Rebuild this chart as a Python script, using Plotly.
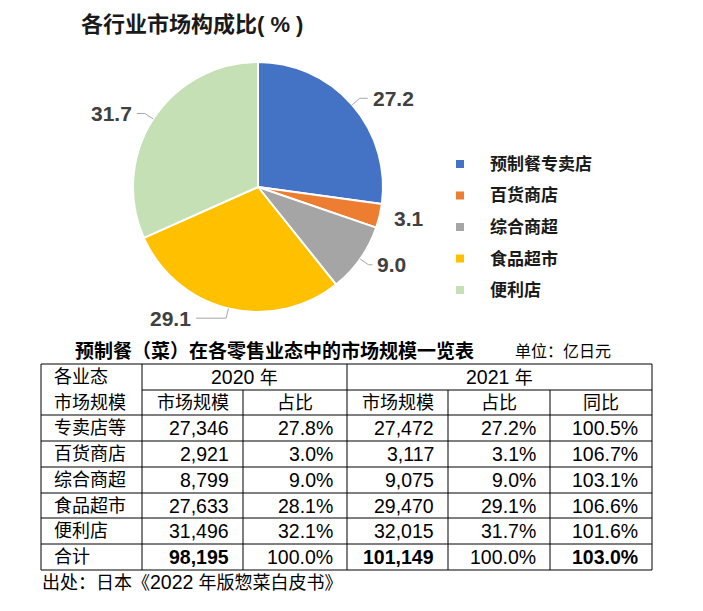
import math
import plotly.graph_objects as go

# ---------------- data ----------------
pie_names = ["预制餐专卖店", "百货商店", "综合商超", "食品超市", "便利店"]
pie_share = [27.2, 3.1, 9.0, 29.1, 31.7]
pie_colors = ["#4472C4", "#ED7D31", "#A5A5A5", "#FFC000", "#C5E0B4"]

row_names = ["专卖店等", "百货商店", "综合商超", "食品超市", "便利店"]
size_2020 = [27346, 2921, 8799, 27633, 31496]
share_2020 = [27.8, 3.0, 9.0, 28.1, 32.1]
size_2021 = [27472, 3117, 9075, 29470, 32015]
share_2021 = [27.2, 3.1, 9.0, 29.1, 31.7]
yoy_2021 = [100.5, 106.7, 103.1, 106.6, 101.6]
total_row = ["合计", 98195, 100.0, 101149, 100.0, 103.0]

year_headers = ["2020", "2021"]
sub_headers = ["市场规模", "占比", "市场规模", "占比", "同比"]
corner_header = ["各业态", "市场规模"]

pie_title = "各行业市场构成比( % )"
table_title = "预制餐（菜）在各零售业态中的市场规模一览表"
unit_text = "单位：亿日元"
source_pre, source_year, source_post = "出处：日本《", "2022", " 年版惣菜白皮书》"

# ---------------- layout helpers ----------------
W, H = 703, 611
def px(x):
    return x / W
def py(y):
    return 1 - y / H

CJK = "Liberation Sans, Arial, 'Noto Sans CJK SC', sans-serif"

fig = go.Figure()

# pie geometry (pixels)
cx, cy, R = 258, 187, 125
fig.add_trace(go.Pie(
    labels=pie_names, values=pie_share, sort=False, direction="clockwise",
    rotation=0, textinfo="none", hoverinfo="label+value",
    marker=dict(colors=pie_colors, line=dict(color="white", width=2)),
    domain=dict(x=[px(cx - R), px(cx + R)], y=[py(cy + R), py(cy - R)]),
    showlegend=False,
))

shapes = []
annotations = []

# pie labels with leader lines, computed from slice mid-angles
leader_len = [8, 0, 4, 30, 8]
total = sum(pie_share)
cum = 0.0
for i, v in enumerate(pie_share):
    mid = (cum + v / 2) / total * 2 * math.pi
    cum += v
    s, c = math.sin(mid), math.cos(mid)
    ex, ey = cx + R * s, cy - R * c
    bx, by = cx + R * 1.08 * s, cy - R * 1.08 * c
    side = 1 if s >= 0 else -1
    tx = bx + side * leader_len[i]
    if leader_len[i] > 0:
        shapes.append(dict(type="path", xref="paper", yref="paper",
                           path=f"M {px(ex)} {py(ey)} L {px(bx)} {py(by)} L {px(tx)} {py(by)}",
                           line=dict(color="#A6A6A6", width=1)))
    annotations.append(dict(x=px(tx + side * 3), y=py(by), xref="paper", yref="paper",
                            text=f"<b>{v:.1f}</b>", showarrow=False,
                            xanchor="left" if side > 0 else "right", yanchor="middle",
                            font=dict(family=CJK, size=21, color="#404040")))

# custom legend
for i, (name, col) in enumerate(zip(pie_names, pie_colors)):
    ly = 164 + i * 31.5
    shapes.append(dict(type="rect", xref="paper", yref="paper",
                       x0=px(456), x1=px(464), y0=py(ly - 4), y1=py(ly + 4),
                       fillcolor=col, line=dict(width=0)))
    annotations.append(dict(x=px(488), y=py(ly), xref="paper", yref="paper",
                            text=f"<b>{name}</b>", showarrow=False,
                            xanchor="left", yanchor="middle",
                            font=dict(family=CJK, size=17, color="#1A1A1A")))

# pie title
annotations.append(dict(x=px(79), y=py(25), xref="paper", yref="paper",
                        text=f"<b>{pie_title}</b>", showarrow=False,
                        xanchor="left", yanchor="middle",
                        font=dict(family=CJK, size=22, color="#1A1A1A")))

# table title and unit
annotations.append(dict(x=px(73), y=py(351), xref="paper", yref="paper",
                        text=f"<b>{table_title}</b>", showarrow=False,
                        xanchor="left", yanchor="middle",
                        font=dict(family=CJK, size=19, color="#000000")))
annotations.append(dict(x=px(513), y=py(351), xref="paper", yref="paper",
                        text=unit_text, showarrow=False,
                        xanchor="left", yanchor="middle",
                        font=dict(family=CJK, size=16, color="#000000")))

# table grid
col_x = [41, 142, 243, 347, 448, 550, 652]
row_y = [364, 390, 415, 441, 467, 493, 518, 544, 570]
line_style = dict(color="black", width=1)
def hline(x0, x1, y):
    shapes.append(dict(type="line", xref="paper", yref="paper",
                       x0=px(x0), x1=px(x1), y0=py(y), y1=py(y), line=line_style))
def vline(x, y0, y1):
    shapes.append(dict(type="line", xref="paper", yref="paper",
                       x0=px(x), x1=px(x), y0=py(y0), y1=py(y1), line=line_style))

for j, y in enumerate(row_y):
    if j == 1:
        hline(col_x[1], col_x[-1], y)
    else:
        hline(col_x[0], col_x[-1], y)
for k, x in enumerate(col_x):
    if k in (2, 4, 5):
        vline(x, row_y[1], row_y[-1])
    else:
        vline(x, row_y[0], row_y[-1])

CJK_SIZE, NUM_SIZE = 18, 19.5
def cjk(t):
    return f"<span style='font-size:{CJK_SIZE}px'>{t}</span>"

def cell_text(text, x, y, anchor):
    annotations.append(dict(x=px(x), y=py(y), xref="paper", yref="paper", text=text,
                            showarrow=False, xanchor=anchor, yanchor="middle",
                            font=dict(family=CJK, size=NUM_SIZE, color="#000000")))

pad_l, pad_r = 11, 12
# header
cell_text(cjk(corner_header[0]), col_x[0] + pad_l, (row_y[0] + row_y[1]) / 2, "left")
cell_text(cjk(corner_header[1]), col_x[0] + pad_l, (row_y[1] + row_y[2]) / 2, "left")
cell_text(year_headers[0] + " " + cjk("年"), (col_x[1] + col_x[3]) / 2, (row_y[0] + row_y[1]) / 2, "center")
cell_text(year_headers[1] + " " + cjk("年"), (col_x[3] + col_x[6]) / 2, (row_y[0] + row_y[1]) / 2, "center")
for k, h in enumerate(sub_headers):
    cell_text(cjk(h), (col_x[k + 1] + col_x[k + 2]) / 2, (row_y[1] + row_y[2]) / 2, "center")

# body rows
for i, name in enumerate(row_names):
    yc = (row_y[i + 2] + row_y[i + 3]) / 2
    vals = [f"{size_2020[i]:,}", f"{share_2020[i]:.1f}%", f"{size_2021[i]:,}",
            f"{share_2021[i]:.1f}%", f"{yoy_2021[i]:.1f}%"]
    cell_text(cjk(name), col_x[0] + pad_l, yc, "left")
    for k, v in enumerate(vals):
        cell_text(v, col_x[k + 2] - pad_r, yc, "right")

# total row
yc = (row_y[7] + row_y[8]) / 2
cell_text(cjk(total_row[0]), col_x[0] + pad_l, yc, "left")
tvals = [f"<b>{total_row[1]:,}</b>", f"{total_row[2]:.1f}%", f"<b>{total_row[3]:,}</b>",
         f"{total_row[4]:.1f}%", f"<b>{total_row[5]:.1f}%</b>"]
for k, v in enumerate(tvals):
    cell_text(v, col_x[k + 2] - pad_r, yc, "right")

# source
cell_text(cjk(source_pre) + source_year + cjk(source_post), 40, 582, "left")

fig.update_layout(
    width=W, height=H, margin=dict(l=0, r=0, t=0, b=0),
    paper_bgcolor="white", plot_bgcolor="white",
    shapes=shapes, annotations=annotations,
)

fig.write_html("out.html", config={"displayModeBar": False},
               post_script="document.body.style.margin='0';document.body.style.overflow='hidden';")
